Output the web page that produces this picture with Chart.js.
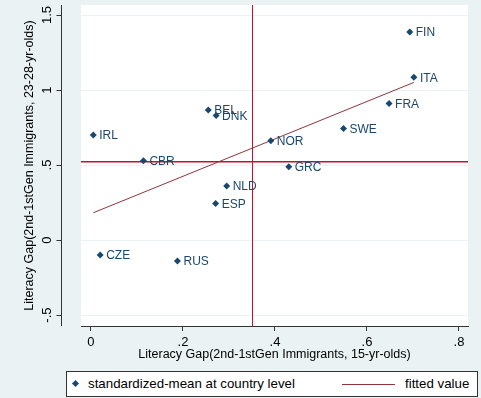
<!DOCTYPE html>
<html>
<head>
<meta charset="utf-8">
<script src="https://cdn.jsdelivr.net/npm/chart.js@4/dist/chart.umd.min.js"></script>
<style>
  body { margin: 0; background: #eaf2f3; font-family: Arial, 'Liberation Sans', sans-serif; }
  #wrap { position: relative; width: 481px; height: 398px; }
  #legend { position: absolute; left: 66px; top: 371px; width: 410px; height: 24px; background: #fff; border: 1px solid #333; font-size: 13.3px; color: #000; }
  #legend span { position: absolute; top: 4px; white-space: nowrap; }
  .dia { position: absolute; left: 6px; top: 9px; width: 5px; height: 5px; background: #1a476f; transform: rotate(45deg); }
  .ln { position: absolute; left: 275px; top: 12px; width: 53px; border-top: 1px solid #90353b; }
</style>
</head>
<body>
<div id="wrap">
  <canvas id="myChart" width="481" height="398"></canvas>
  <div id="legend">
    <div class="dia"></div><span style="left:21px">standardized-mean at country level</span>
    <div class="ln"></div><span style="left:338px">fitted value</span>
  </div>
</div>
<script>
// data
const countries = ['FIN', 'ITA', 'FRA', 'SWE', 'NOR', 'GRC', 'NLD', 'BEL', 'DNK', 'IRL', 'CBR', 'ESP', 'CZE', 'RUS'];
const gap15 = [0.693, 0.702, 0.648, 0.549, 0.391, 0.430, 0.295, 0.255, 0.272, 0.005, 0.114, 0.271, 0.020, 0.188];
const gap23 = [1.387, 1.085, 0.911, 0.744, 0.662, 0.489, 0.360, 0.867, 0.831, 0.700, 0.529, 0.244, -0.100, -0.140];

const fitX = [0.005, 0.702];
const fitY = [0.182, 1.051];

const meanX = 0.351;
const meanY = 0.527;

const xTicks = [0, 0.2, 0.4, 0.6, 0.8];
const yTicks = [-0.5, 0, 0.5, 1, 1.5];

const fmt = v => v === 0 ? '0' : String(v).replace(/^(-?)0\./, '$1.');

const plotBg = {
    id: 'plotBg',
    beforeDraw(chart) {
        const {ctx, chartArea: a} = chart;
        ctx.save();
        ctx.fillStyle = '#fff';
        ctx.fillRect(a.left, a.top, a.right - a.left, a.bottom - a.top);
        ctx.restore();
    }
};

// mean reference lines
const refLines = {
    id: 'refLines',
    beforeDatasetsDraw(chart) {
        const {ctx, chartArea: a, scales: {x, y}} = chart;
        const px = Math.round(x.getPixelForValue(meanX)) + 0.5;
        const py = Math.round(y.getPixelForValue(meanY)) + 0.75;
        ctx.save();
        ctx.strokeStyle = '#c8102e';
        ctx.lineWidth = 1;
        ctx.beginPath();
        ctx.moveTo(px, a.top);
        ctx.lineTo(px, a.bottom);
        ctx.stroke();
        ctx.lineWidth = 1.5;
        ctx.beginPath();
        ctx.moveTo(a.left, py);
        ctx.lineTo(a.right, py);
        ctx.stroke();
        ctx.restore();
    }
};

const pointLabels = {
    id: 'pointLabels',
    afterDatasetsDraw(chart) {
        const {ctx, scales: {x, y}} = chart;
        ctx.save();
        ctx.font = '12px Arial, "Liberation Sans", sans-serif';
        ctx.fillStyle = '#1a476f';
        ctx.textBaseline = 'middle';
        ctx.textAlign = 'left';
        countries.forEach((c, i) => {
            ctx.fillText(c, x.getPixelForValue(gap15[i]) + 6, y.getPixelForValue(gap23[i]) + 1);
        });
        ctx.restore();
    }
};

// stata style y axis, set apart from the plot region, labels turned
const yAxis = {
    id: 'yAxis',
    afterDraw(chart) {
        const {ctx, chartArea: a, scales: {y}} = chart;
        const ax = 61.5;
        ctx.save();
        ctx.strokeStyle = '#333';
        ctx.lineWidth = 1;
        ctx.beginPath();
        ctx.moveTo(ax, a.top);
        ctx.lineTo(ax, a.bottom);
        yTicks.forEach(v => {
            const py = Math.round(y.getPixelForValue(v)) + 0.5;
            ctx.moveTo(ax, py);
            ctx.lineTo(ax - 5, py);
        });
        ctx.stroke();
        ctx.fillStyle = '#000';
        ctx.font = '13px Arial, "Liberation Sans", sans-serif';
        ctx.textAlign = 'center';
        ctx.textBaseline = 'middle';
        yTicks.forEach(v => {
            ctx.save();
            ctx.translate(47, y.getPixelForValue(v));
            ctx.rotate(-Math.PI / 2);
            ctx.fillText(fmt(v), 0, 0);
            ctx.restore();
        });
        ctx.restore();
    }
};

const ctx = document.getElementById('myChart').getContext('2d');
const myChart = new Chart(ctx, {
    type: 'scatter',
    data: {
        datasets: [{
            label: 'standardized-mean at country level',
            data: gap15.map((v, i) => ({x: v, y: gap23[i]})),
            pointStyle: 'rectRot',
            pointRadius: 3.5,
            backgroundColor: '#1a476f',
            borderColor: '#1a476f',
            borderWidth: 0
        }, {
            type: 'line',
            label: 'fitted value',
            data: fitX.map((v, i) => ({x: v, y: fitY[i]})),
            borderColor: '#90353b',
            borderWidth: 1,
            pointRadius: 0,
            fill: false
        }]
    },
    options: {
        responsive: false,
        devicePixelRatio: 1,
        animation: false,
        layout: { padding: { top: 5, right: 13, bottom: 32, left: 0 } },
        plugins: {
            legend: { display: false },
            tooltip: { enabled: false }
        },
        scales: {
            x: {
                type: 'linear',
                min: -0.0217,
                max: 0.8196,
                afterBuildTicks: axis => { axis.ticks = xTicks.map(v => ({value: v})); },
                afterFit: axis => { axis.height = 40; },
                ticks: {
                    callback: v => fmt(v),
                    color: '#000',
                    font: { size: 13, family: 'Arial, "Liberation Sans", sans-serif' },
                    padding: 4,
                    maxRotation: 0
                },
                grid: { drawOnChartArea: false, drawTicks: true, tickLength: 5, color: '#333' },
                border: { display: true, color: '#333' },
                title: {
                    display: true,
                    text: 'Literacy Gap(2nd-1stGen Immigrants, 15-yr-olds)',
                    color: '#000',
                    font: { size: 12.5, family: 'Arial, "Liberation Sans", sans-serif' },
                    padding: { top: 0, bottom: 3.5 }
                }
            },
            y: {
                type: 'linear',
                min: -0.573,
                max: 1.567,
                afterBuildTicks: axis => { axis.ticks = yTicks.map(v => ({value: v})); },
                afterFit: axis => { axis.width = 81; },
                ticks: { display: false },
                grid: { color: '#eaf2f3', drawTicks: false },
                border: { display: false },
                title: {
                    display: true,
                    text: 'Literacy Gap(2nd-1stGen Immigrants, 23-28-yr-olds)',
                    color: '#000',
                    font: { size: 12.5, family: 'Arial, "Liberation Sans", sans-serif' },
                    padding: { top: 22.5, bottom: 0 }
                }
            }
        }
    },
    plugins: [plotBg, refLines, pointLabels, yAxis]
});
</script>
</body>
</html>
